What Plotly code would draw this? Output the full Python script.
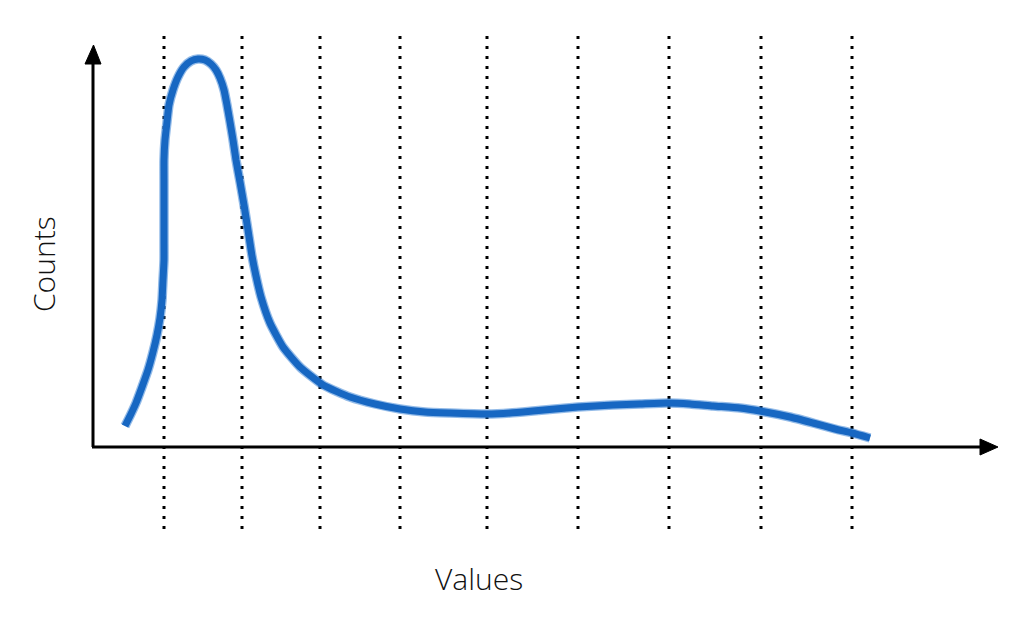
import plotly.graph_objects as go

# Curve (value units: origin at the axes corner)
curve_x = [32, 37, 43, 49, 55, 60, 64, 67, 69, 70, 71, 71, 71, 71, 71, 71, 72, 74, 76, 80, 85, 91,
           98, 105, 112, 118, 123, 127, 131, 134, 137, 140, 143, 147, 151, 155, 159, 163, 168,
           177, 190, 207, 230, 257, 282, 307, 332, 357, 394, 417, 440, 462, 485, 520, 547, 575,
           597, 620, 647, 667, 697, 720, 742, 759, 777]
curve_y = [21, 31, 44, 60, 77, 95, 112, 129, 147, 167, 187, 207, 227, 247, 267, 287, 307, 325, 342, 357, 370, 380,
           386, 388, 387, 383, 377, 369, 357, 342, 325, 307, 287, 265, 242, 217, 191, 171, 150,
           124, 100, 80, 62, 50, 43, 38, 35, 34, 33, 34, 36, 38, 40, 42, 43, 44,
           43, 41, 39, 36, 30, 24, 18, 14, 9]

# Dotted vertical guide lines (value positions)
guide_x = [71, 149, 227, 307, 394, 485, 576, 668, 759]
guide_top, guide_bottom = 416, -82

x_label = "Values"
y_label = "Counts"

fig = go.Figure()

for gx in guide_x:
    fig.add_shape(type="line", x0=gx, x1=gx, y0=guide_bottom, y1=guide_top,
                  xref="x", yref="y", line=dict(color="black", width=3, dash="3px,7px"), layer="below")

fig.add_shape(type="line", x0=0, x1=0, y0=0, y1=386, xref="x", yref="y",
              line=dict(color="black", width=3))
fig.add_shape(type="line", x0=-1, x1=890, y0=0, y1=0, xref="x", yref="y",
              line=dict(color="black", width=3))
fig.add_shape(type="path", path="M -8 383 L 8 383 L 0.5 402 Z", xref="x", yref="y",
              fillcolor="black", line=dict(color="black", width=1))
fig.add_shape(type="path", path="M 887 8 L 887 -8 L 905 0 Z", xref="x", yref="y",
              fillcolor="black", line=dict(color="black", width=1))

fig.add_trace(go.Scatter(x=curve_x, y=curve_y, mode="lines",
                         line=dict(color="rgba(40,120,210,0.5)", width=9.5, shape="spline", smoothing=0.5),
                         hoverinfo="skip", showlegend=False))
fig.add_trace(go.Scatter(x=curve_x, y=curve_y, mode="lines",
                         line=dict(color="#1767c2", width=7, shape="spline", smoothing=0.5),
                         showlegend=False))

label_font = dict(family="Open Sans", size=30, color="#111", weight=300)
fig.add_annotation(text=x_label, x=479 / 1024, y=1 - 578 / 625, xref="paper", yref="paper",
                   xanchor="center", yanchor="middle", showarrow=False, font=label_font)
fig.add_annotation(text=y_label, x=43 / 1024, y=1 - 264 / 625, xref="paper", yref="paper",
                   xanchor="center", yanchor="middle", showarrow=False, textangle=-90,
                   font=label_font)

fig.update_layout(
    width=1024, height=625,
    margin=dict(l=0, r=0, t=0, b=0),
    paper_bgcolor="white", plot_bgcolor="white",
    xaxis=dict(range=[-93, 931], visible=False, fixedrange=True),
    yaxis=dict(range=[-178, 447], visible=False, fixedrange=True),
    showlegend=False,
)

fig.write_html("out.html", config={"displayModeBar": False},
               post_script="document.body.style.margin='0';document.body.style.overflow='hidden';")
